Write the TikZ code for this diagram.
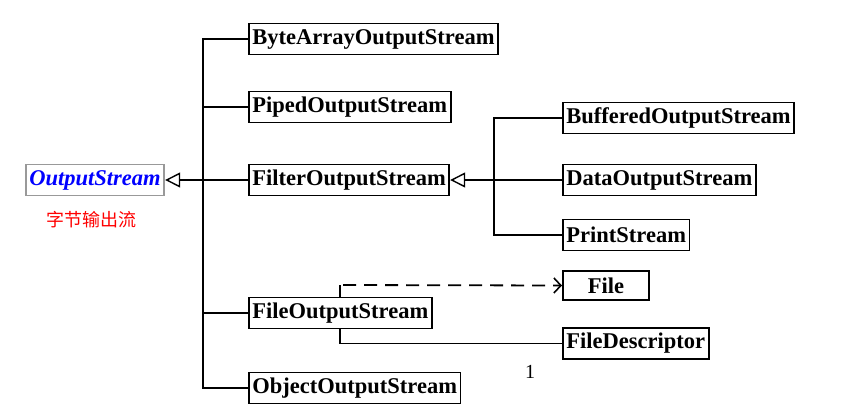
\documentclass[tikz,border=0pt]{standalone}
\usepackage{fontspec}
\setmainfont{Liberation Serif}
\newfontfamily\cjk{Noto Sans CJK SC}
\usetikzlibrary{arrows.meta,positioning}

\begin{document}
\begin{tikzpicture}[x=1pt,y=-1pt,line width=1.8pt,
        cls/.style={draw=black, line width=1.9pt, fill=white, anchor=west, minimum height=31pt, inner xsep=3.5pt, inner ysep=0pt, font=\fontsize{22.5}{24}\selectfont\bfseries},
        inh/.style={-{Triangle[open,length=15pt,width=15pt,line width=1.4pt]}},
        dep/.style={dashed, dash pattern=on 13pt off 8pt, -{Straight Barb[length=7pt,width=15pt,line width=1.6pt]}}]
        \useasboundingbox (0,0) rectangle (860,413);
        \node[cls, draw=gray!80, text=blue, font=\fontsize{22.5}{24}\selectfont\bfseries\itshape] (out) at (25,180) {OutputStream};
        \node[red, font=\cjk\fontsize{18}{20}\selectfont] (zh) at (91,220) {字节输出流};
        \node[cls] (bytearray) at (248,39) {ByteArrayOutputStream};
        \node[cls] (piped) at (248,107) {PipedOutputStream};
        \node[cls] (filter) at (248,180) {FilterOutputStream};
        \node[cls] (fos) at (248,313) {FileOutputStream};
        \node[cls] (object) at (248,388) {ObjectOutputStream};
        \node[cls] (buffered) at (562,118) {BufferedOutputStream};
        \node[cls] (data) at (562,180) {DataOutputStream};
        \node[cls] (print) at (562,235) {PrintStream};
        \node[cls, minimum width=86pt, minimum height=29pt] (file) at (562,285.5) {File};
        \node[cls] (fdesc) at (562,343.5) {FileDescriptor};
        \node[font=\fontsize{20}{22}\selectfont] (one) at (530,372) {1};
        \coordinate (t1) at (203,180);
        \coordinate (t2) at (494,180);
        \coordinate (d1) at (340,285);
        \draw[inh] (filter.west) -- (out.east);
        \draw (bytearray.west) -| (t1);
        \draw (piped.west) -| (t1);
        \draw (fos.west) -| (t1);
        \draw (object.west) -| (t1);
        \draw[inh] (data.west) -- (filter.east);
        \draw (buffered.west) -| (t2);
        \draw (print.west) -| (t2);
        \draw (fos.north -| d1) -- (d1);
        \draw[dep] ([xshift=3pt]d1) -- (file.west);
        \draw (fos.south -| d1) |- (fdesc.west);
    \end{tikzpicture}
\end{document}
